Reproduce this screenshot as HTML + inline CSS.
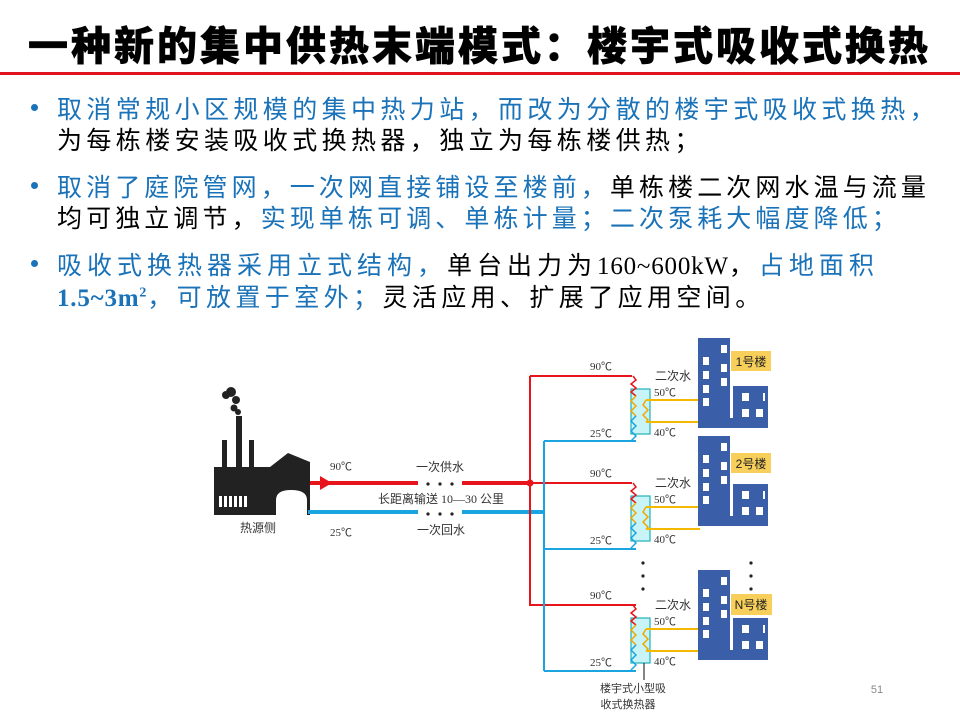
<!DOCTYPE html>
<html><head><meta charset="utf-8"><style>
body{margin:0;width:960px;height:720px;background:#fff;overflow:hidden;position:relative;font-family:"Liberation Serif","Noto Serif CJK SC",serif}
.t{position:absolute;left:28px;top:14px;font-family:"Liberation Sans","Noto Sans CJK SC",sans-serif;font-weight:900;font-size:40px;letter-spacing:3px;color:#000;white-space:nowrap;-webkit-text-stroke:0.6px #000}
.rl{position:absolute;left:0;top:72px;width:960px;height:3px;background:#e0141c}
.b{position:absolute;left:57px;font-size:25px;letter-spacing:4.4px;white-space:nowrap;color:#000;font-family:"Liberation Serif","Noto Sans CJK SC",sans-serif}
.bl{color:#1a72b8}
.n{letter-spacing:0.8px}
.dot{position:absolute;left:31px;width:7px;height:7px;border-radius:50%;background:#1a72b8}
</style></head><body>
<div class="t">一种新的集中供热末端模式：楼宇式吸收式换热</div>
<div class="rl"></div>
<div class="dot" style="top:104px"></div>
<div class="b bl" style="top:90px">取消常规小区规模的集中热力站，而改为分散的楼宇式吸收式换热，</div>
<div class="b" style="top:121px">为每栋楼安装吸收式换热器，独立为每栋楼供热；</div>
<div class="dot" style="top:182px"></div>
<div class="b" style="top:168px;letter-spacing:4.1px"><span class="bl">取消了庭院管网，一次网直接铺设至楼前，</span>单栋楼二次网水温与流量</div>
<div class="b" style="top:199px;letter-spacing:4.1px">均可独立调节，<span class="bl">实现单栋可调、单栋计量；二次泵耗大幅度降低；</span></div>
<div class="dot" style="top:260px"></div>
<div class="b" style="top:246px;letter-spacing:5px"><span class="bl">吸收式换热器采用立式结构，</span>单台出力为<span class="n">160~600kW</span>，<span class="bl">占地面积</span></div>
<div class="b" style="top:278px"><span class="bl"><b class="n">1.5~3m<sup style="font-size:14px">2</sup></b>，可放置于室外；</span>灵活应用、扩展了应用空间。</div>

<svg width="960" height="720" style="position:absolute;left:0;top:0" font-family="Liberation Serif,Noto Sans CJK SC,sans-serif">
<g fill="#222">
<rect x="214" y="467" width="96" height="48"/>
<polygon points="270,467 288,453 310,462 310,467"/>
<rect x="236" y="416" width="6" height="52"/>
<rect x="222" y="440" width="5" height="28"/>
<rect x="249" y="440" width="5" height="28"/>
<circle cx="231" cy="392" r="5"/><circle cx="236" cy="400" r="4"/><circle cx="234" cy="408" r="3.5"/><circle cx="226" cy="395" r="4"/><circle cx="238" cy="412" r="3"/>
</g>
<g fill="#fff">
<rect x="219" y="496" width="3" height="11"/><rect x="224" y="496" width="3" height="11"/><rect x="229" y="496" width="3" height="11"/><rect x="234" y="496" width="3" height="11"/><rect x="239" y="496" width="3" height="11"/><rect x="244" y="496" width="3" height="11"/>
<path d="M276,515 V500 Q276,490 291,490 Q307,490 307,500 V515Z"/>
</g>
<text x="258" y="532" font-size="12" fill="#333" text-anchor="middle">热源侧</text>
<g stroke-width="4">
<line x1="310" y1="483" x2="418" y2="483" stroke="#e8141c"/>
<line x1="462" y1="483" x2="530" y2="483" stroke="#e8141c"/>
<line x1="308" y1="512" x2="418" y2="512" stroke="#1ba5e0"/>
<line x1="462" y1="512" x2="544" y2="512" stroke="#1ba5e0"/>
</g>
<polygon points="320,476 332,483 320,490" fill="#e8141c"/>
<circle cx="530" cy="483" r="3.5" fill="#e8141c"/>
<g fill="#222"><circle cx="428" cy="484" r="1.6"/><circle cx="440" cy="484" r="1.6"/><circle cx="452" cy="484" r="1.6"/><circle cx="428" cy="514" r="1.6"/><circle cx="440" cy="514" r="1.6"/><circle cx="452" cy="514" r="1.6"/></g>
<g font-size="11" fill="#333">
<text x="330" y="470">90℃</text><text x="330" y="536">25℃</text>
<text x="440" y="471" text-anchor="middle" font-size="12">一次供水</text>
<text x="441" y="503" text-anchor="middle" font-size="12">长距离输送 10—30 公里</text>
<text x="441" y="534" text-anchor="middle" font-size="12">一次回水</text>
</g>
<g fill="none" stroke-width="2">
<polyline points="530,376 530,605 636,605" stroke="#e8141c"/>
<line x1="530" y1="376" x2="632" y2="376" stroke="#e8141c"/>
<line x1="530" y1="483" x2="632" y2="483" stroke="#e8141c"/>
<line x1="544" y1="441" x2="544" y2="671" stroke="#1ba5e0"/>
<line x1="544" y1="441" x2="636" y2="441" stroke="#1ba5e0"/>
<line x1="544" y1="549" x2="636" y2="549" stroke="#1ba5e0"/>
<line x1="544" y1="671" x2="636" y2="671" stroke="#1ba5e0"/>
</g>
<g id="ex">
<rect x="631" y="389" width="19" height="45" fill="#c8f4f8" stroke="#20b0b8" stroke-width="1.2"/>
<polyline points="633,376 636,380 631,384 636,388 631,392 636,396" fill="none" stroke="#e8141c" stroke-width="1.5"/>
<polyline points="636,396 631,401 636,406 631,411 636,416" fill="none" stroke="#f0a800" stroke-width="1.5"/>
<polyline points="636,416 631,421 636,426 631,431 636,436 631,441" fill="none" stroke="#1ba5e0" stroke-width="1.5"/>
<polyline points="646,400 643,405 648,410 643,415 648,420 646,422" fill="none" stroke="#f0a800" stroke-width="1.5"/>
<line x1="646" y1="400" x2="700" y2="400" stroke="#f5b800" stroke-width="2"/>
<line x1="646" y1="422" x2="700" y2="422" stroke="#f5b800" stroke-width="2"/>
<g font-size="11" fill="#333"><text x="590" y="370">90℃</text><text x="590" y="437">25℃</text><text x="655" y="380" font-size="12">二次水</text><text x="654" y="396">50℃</text><text x="654" y="436">40℃</text></g>
</g>
<use href="#ex" y="107"/>
<use href="#ex" y="229"/>
<line x1="644" y1="663" x2="644" y2="680" stroke="#333" stroke-width="1.2"/>
<g id="bd">
<rect x="698" y="338" width="32" height="90" fill="#3a5ea8"/>
<rect x="733" y="386" width="35" height="42" fill="#3a5ea8"/>
<rect x="728" y="418" width="6" height="10" fill="#3a5ea8"/>
<g fill="#fff"><rect x="721" y="345" width="6" height="8"/><rect x="703" y="357" width="6" height="8"/><rect x="721" y="364" width="6" height="8"/><rect x="703" y="371" width="6" height="8"/><rect x="721" y="378" width="6" height="8"/><rect x="703" y="385" width="6" height="8"/><rect x="703" y="398" width="6" height="8"/>
<rect x="742" y="393" width="7" height="8"/><rect x="763" y="393" width="2" height="8"/><rect x="742" y="409" width="7" height="8"/><rect x="756" y="409" width="7" height="8"/></g>
</g>
<use href="#bd" y="98"/>
<use href="#bd" y="232"/>
<rect x="731" y="351" width="40" height="20" fill="#f7cf5a"/>
<rect x="731" y="453" width="40" height="20" fill="#f7cf5a"/>
<rect x="731" y="594" width="41" height="21" fill="#f7cf5a"/>
<g font-size="12" fill="#222" text-anchor="middle" font-family="Liberation Sans,Noto Sans CJK SC,sans-serif"><text x="751" y="366">1号楼</text><text x="751" y="468">2号楼</text><text x="751" y="609">N号楼</text></g>
<g fill="#222"><circle cx="643" cy="563" r="1.6"/><circle cx="643" cy="576" r="1.6"/><circle cx="643" cy="589" r="1.6"/><circle cx="751" cy="563" r="1.6"/><circle cx="751" cy="576" r="1.6"/><circle cx="751" cy="589" r="1.6"/></g>
<g font-size="11" fill="#333" text-anchor="middle"><text x="633" y="692">楼宇式小型吸</text><text x="628" y="708">收式换热器</text></g>
<text x="877" y="693" font-size="11" fill="#888" text-anchor="middle" font-family="Liberation Sans,sans-serif">51</text>
</svg>
</body></html>
